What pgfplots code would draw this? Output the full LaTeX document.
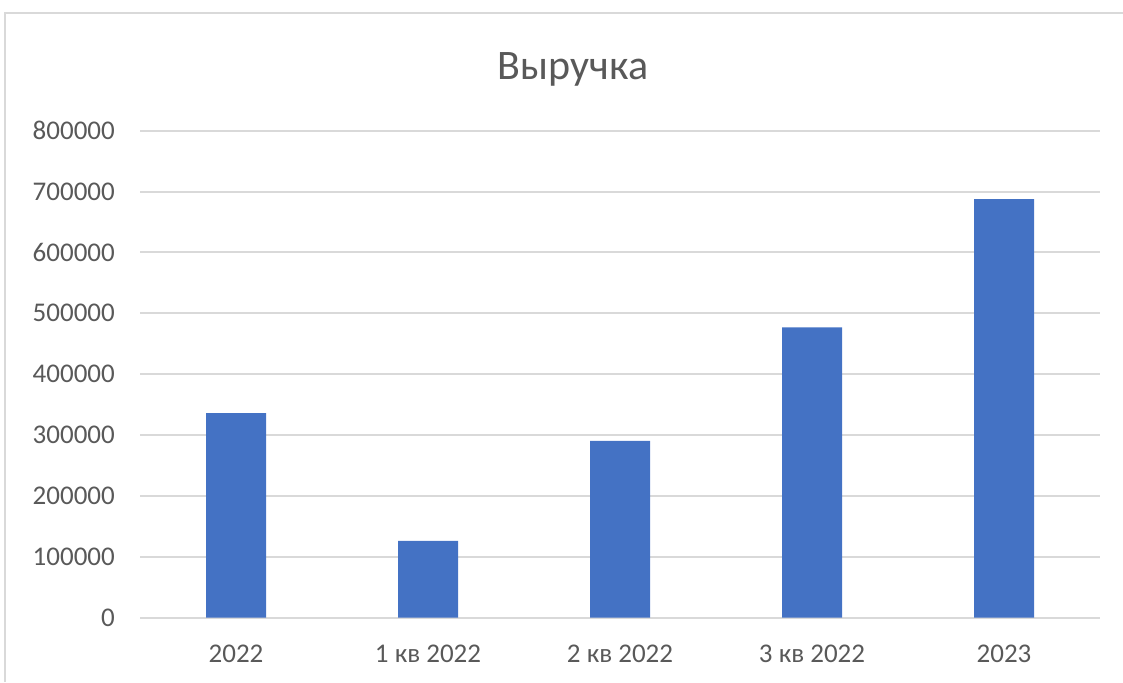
\documentclass[border=0pt]{standalone}
\usepackage{fontspec}
\setmainfont{Carlito}
\usepackage{pgfplots}
\pgfplotsset{compat=1.18}
\definecolor{barblue}{HTML}{4472C4}
\definecolor{gridgray}{HTML}{D9D9D9}
\definecolor{txtgray}{HTML}{595959}
\begin{document}
\begin{tikzpicture}[x=1pt,y=1pt]
\path[use as bounding box] (0,0) rectangle (1123,682);
\draw[gridgray, line width=2pt] (5,0) -- (5,668.5) -- (1123,668.5);
\node[txtgray, font=\fontsize{42}{50}\selectfont] at (573,613) {Выручка};
\begin{axis}[
 at={(140pt,64.3pt)}, anchor=south west,
 scale only axis, width=960pt, height=487pt,
 xmin=-0.5, xmax=4.5, ymin=0, ymax=800000,
 ytick={0,100000,...,800000},
 xtick={0,...,4},
 xticklabels={2022, 1 кв 2022, 2 кв 2022, 3 кв 2022, 2023},
 axis line style={draw=none},
 major tick length=0pt,
 ymajorgrids, grid style={gridgray, line width=2pt},
 tick label style={txtgray, font=\fontsize{27}{32}\selectfont},
 /pgf/number format/assume math mode=true,
 scaled y ticks=false,
 yticklabel={\pgfmathprintnumber[fixed,precision=0,1000 sep={}]{\tick}},
 yticklabel style={anchor=east, inner sep=0pt, xshift=-25pt},
 xticklabel style={anchor=north, inner sep=0pt, yshift=-27pt},
]
\addplot[ybar, bar width=60pt, fill=barblue, draw=none] coordinates {(0,336000) (1,126300) (2,290600) (3,477000) (4,687500)};
\end{axis}
\end{tikzpicture}
\end{document}
